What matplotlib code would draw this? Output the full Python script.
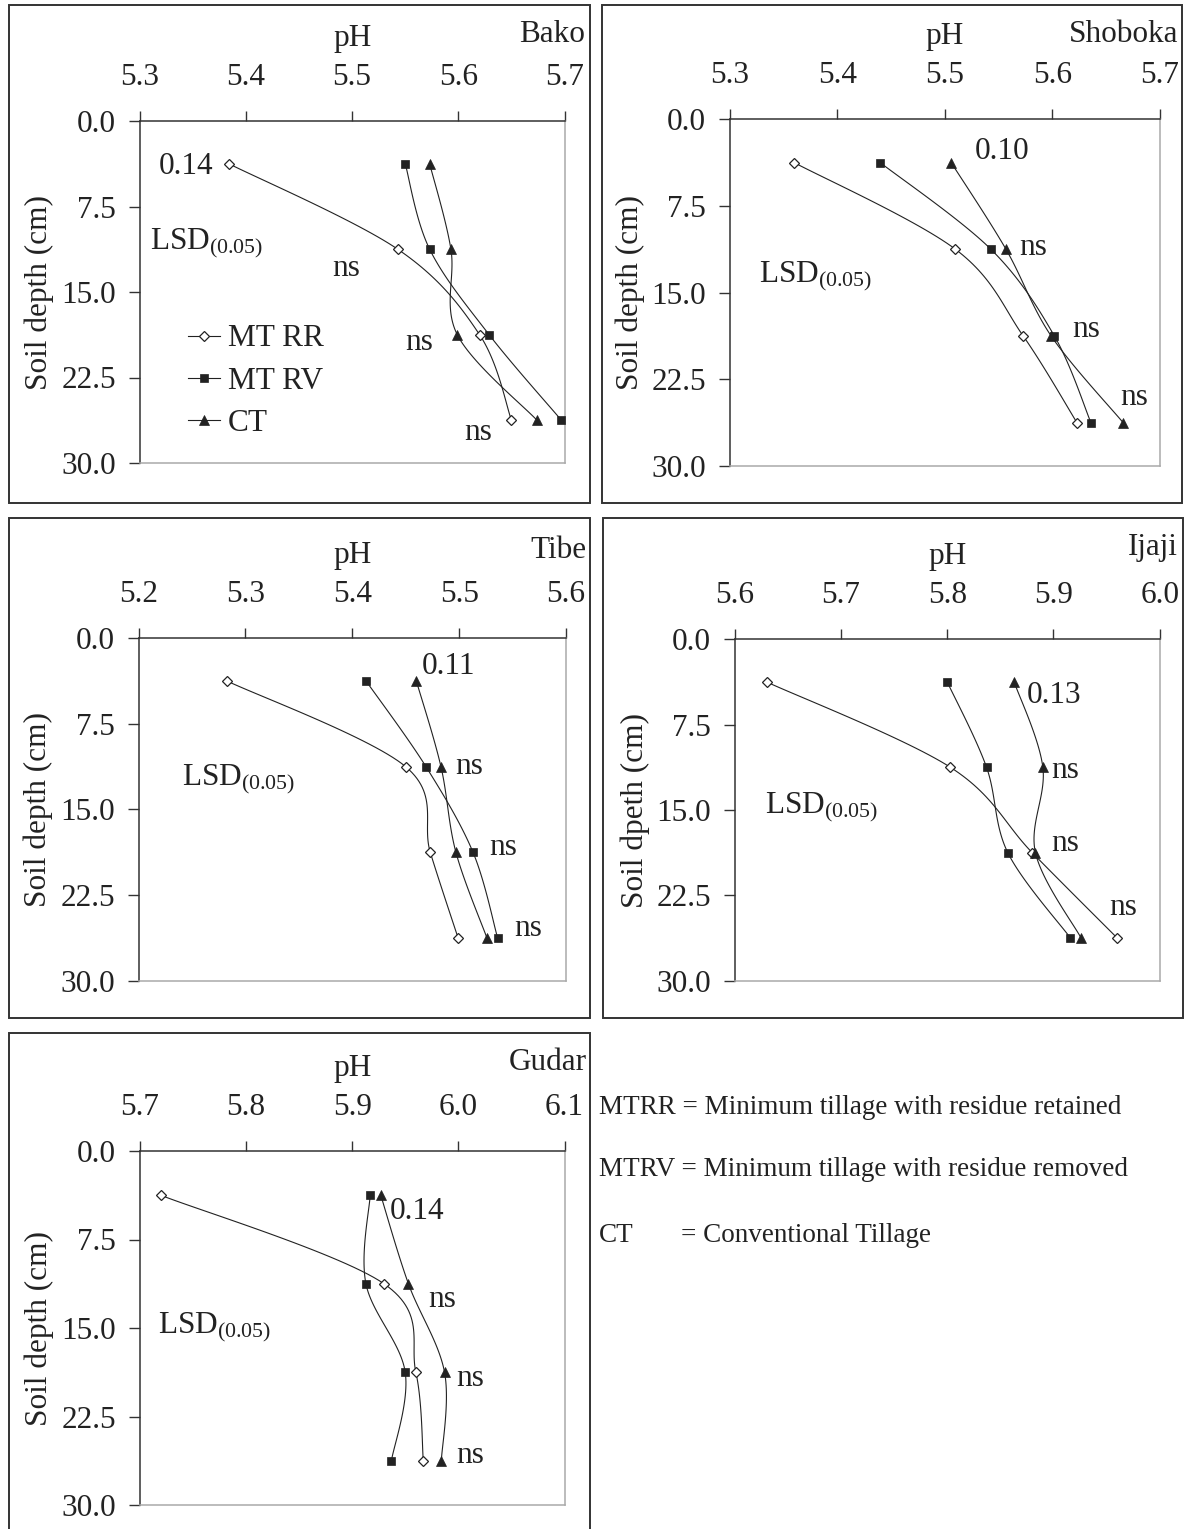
import numpy as np
import matplotlib
matplotlib.use("Agg")
import matplotlib.pyplot as plt
from matplotlib.patches import Rectangle
from matplotlib.lines import Line2D
from matplotlib.ticker import FormatStrFormatter

plt.rcParams['font.family'] = 'Liberation Serif'
plt.rcParams['mathtext.fontset'] = 'custom'
plt.rcParams['mathtext.rm'] = 'Liberation Serif'
plt.rcParams['mathtext.it'] = 'Liberation Serif:italic'

W, H = 1188, 1529
INK = '#222222'
FS = 22.5

# soil depth midpoints (cm)
depth = [3.75, 11.25, 18.75, 26.25]

# pH by site and treatment
bako_mtrr = [5.384, 5.543, 5.620, 5.650]
bako_mtrv = [5.550, 5.573, 5.629, 5.697]
bako_ct = [5.573, 5.593, 5.599, 5.674]

shoboka_mtrr = [5.360, 5.510, 5.573, 5.623]
shoboka_mtrv = [5.440, 5.543, 5.602, 5.636]
shoboka_ct = [5.506, 5.557, 5.599, 5.666]

tibe_mtrr = [5.283, 5.450, 5.473, 5.499]
tibe_mtrv = [5.413, 5.469, 5.513, 5.536]
tibe_ct = [5.460, 5.483, 5.497, 5.526]

ijaji_mtrr = [5.630, 5.803, 5.880, 5.960]
ijaji_mtrv = [5.800, 5.837, 5.857, 5.916]
ijaji_ct = [5.863, 5.890, 5.883, 5.926]

gudar_mtrr = [5.720, 5.930, 5.960, 5.967]
gudar_mtrv = [5.917, 5.913, 5.950, 5.937]
gudar_ct = [5.927, 5.953, 5.987, 5.984]

lsd = ['0.14', '0.10', '0.11', '0.13', '0.14']
ph_ticks = {
    'Bako': [5.3, 5.4, 5.5, 5.6, 5.7],
    'Shoboka': [5.3, 5.4, 5.5, 5.6, 5.7],
    'Tibe': [5.2, 5.3, 5.4, 5.5, 5.6],
    'Ijaji': [5.6, 5.7, 5.8, 5.9, 6.0],
    'Gudar': [5.7, 5.8, 5.9, 6.0, 6.1],
}
depth_ticks = [0.0, 7.5, 15.0, 22.5, 30.0]

# panel layout in pixels: axes (left, right, top, bottom), box (left, right, top, bottom)
panels = [
    dict(site='Bako', series=(bako_mtrr, bako_mtrv, bako_ct), lsd=lsd[0],
         ax=(139.6, 564.6, 121, 463), box=(8.5, 590, 5, 503), name_xy=(585, 35),
         lsd_xy=(5.344, 4.0), lsd_lab=(5.31, 11.2),
         ns=[(5.494, 12.9), (5.563, 19.4), (5.619, 27.3)],
         ylabel='Soil depth (cm)', legend=True),
    dict(site='Shoboka', series=(shoboka_mtrr, shoboka_mtrv, shoboka_ct), lsd=lsd[1],
         ax=(729.8, 1159.7, 119.3, 466), box=(601.5, 1182, 5, 503), name_xy=(1178, 35),
         lsd_xy=(5.553, 2.8), lsd_lab=(5.327, 14.05),
         ns=[(5.582, 11.1), (5.632, 18.2), (5.676, 24.1)],
         ylabel='Soil depth (cm)', legend=False),
    dict(site='Tibe', series=(tibe_mtrr, tibe_mtrv, tibe_ct), lsd=lsd[2],
         ax=(138.5, 566, 638.3, 980.7), box=(8.5, 590, 518, 1018), name_xy=(586.5, 550),
         lsd_xy=(5.490, 2.5), lsd_lab=(5.241, 12.85),
         ns=[(5.509, 11.25), (5.541, 18.3), (5.565, 25.4)],
         ylabel='Soil depth (cm)', legend=False),
    dict(site='Ijaji', series=(ijaji_mtrr, ijaji_mtrv, ijaji_ct), lsd=lsd[3],
         ax=(734.8, 1159.7, 639.3, 980.7), box=(602.6, 1182.7, 518, 1018), name_xy=(1178, 547),
         lsd_xy=(5.901, 4.9), lsd_lab=(5.628, 15.3),
         ns=[(5.911, 11.5), (5.911, 17.9), (5.966, 23.6)],
         ylabel='Soil dpeth (cm)', legend=False),
    dict(site='Gudar', series=(gudar_mtrr, gudar_mtrv, gudar_ct), lsd=lsd[4],
         ax=(139.6, 564.6, 1151, 1505), box=(8.5, 590, 1033, 1545), name_xy=(586.5, 1062),
         lsd_xy=(5.961, 5.1), lsd_lab=(5.717, 15.45),
         ns=[(5.985, 12.6), (6.011, 19.3), (6.011, 25.8)],
         ylabel='Soil depth (cm)', legend=False),
]

styles = [
    dict(label='MT RR', marker='D', ms=5, mfc='white', mec=INK, mew=0.9),
    dict(label='MT RV', marker='s', ms=6, mfc=INK, mec=INK, mew=0.5),
    dict(label='CT', marker='^', ms=6.5, mfc=INK, mec=INK, mew=0.5),
]


def smooth(ax, xs, ys, n=30):
    # Bezier smoothing in screen space, like spreadsheet "smoothed line"
    pts = ax.transData.transform(np.column_stack([xs, ys]))
    out = [pts[0]]
    t = np.linspace(0, 1, n)[1:, None]
    for i in range(len(pts) - 1):
        p0 = pts[i - 1] if i > 0 else pts[i]
        p1, p2 = pts[i], pts[i + 1]
        p3 = pts[i + 2] if i + 2 < len(pts) else pts[i + 1]
        c1 = p1 + (p2 - p0) / 6
        c2 = p2 - (p3 - p1) / 6
        seg = (1 - t) ** 3 * p1 + 3 * (1 - t) ** 2 * t * c1 + 3 * (1 - t) * t ** 2 * c2 + t ** 3 * p2
        out.extend(seg)
    return ax.transData.inverted().transform(np.array(out))


fig = plt.figure(figsize=(W / 100, H / 100), dpi=100)

for p in panels:
    l, r, t, b = p['ax']
    ax = fig.add_axes([l / W, 1 - b / H, (r - l) / W, (b - t) / H])
    ticks = ph_ticks[p['site']]
    ax.set_xlim(ticks[0], ticks[-1])
    ax.set_ylim(30, 0)
    ax.set_xticks(ticks)
    ax.set_yticks(depth_ticks)
    ax.xaxis.set_major_formatter(FormatStrFormatter('%.1f'))
    ax.yaxis.set_major_formatter(FormatStrFormatter('%.1f'))
    ax.xaxis.tick_top()
    ax.xaxis.set_label_position('top')
    ax.tick_params(axis='x', direction='out', length=7, width=1, color='#333333',
                   labelsize=FS, labelcolor=INK, pad=14)
    ax.tick_params(axis='y', direction='out', length=8, width=1, color='#333333',
                   labelsize=FS, labelcolor=INK, pad=9)
    for side in ('left', 'top'):
        ax.spines[side].set_color('#333333')
        ax.spines[side].set_linewidth(1.1)
    for side in ('right', 'bottom'):
        ax.spines[side].set_color('#aaaaaa')
        ax.spines[side].set_linewidth(1.1)
    ax.set_xlabel('pH', fontsize=FS, color=INK, labelpad=12)
    ax.set_ylabel(p['ylabel'], fontsize=FS, color=INK, labelpad=5)

    for vals, st in zip(p['series'], styles):
        curve = smooth(ax, vals, depth)
        ax.plot(curve[:, 0], curve[:, 1], color=INK, lw=0.8, zorder=2)
        ax.plot(vals, depth, ls='none', marker=st['marker'], ms=st['ms'],
                mfc=st['mfc'], mec=st['mec'], mew=st['mew'], zorder=3)

    ax.text(*p['lsd_xy'], p['lsd'], fontsize=FS, color=INK, ha='center', va='center')
    ax.text(*p['lsd_lab'], r'LSD$_{(0.05)}$', fontsize=FS, color=INK, ha='left', va='baseline')
    for x, y in p['ns']:
        ax.text(x, y, 'ns', fontsize=FS, color=INK, ha='center', va='center')

    if p['legend']:
        handles = [Line2D([], [], color=INK, lw=0.8, marker=st['marker'], ms=st['ms'],
                          mfc=st['mfc'], mec=st['mec'], mew=st['mew'], label=st['label'])
                   for st in styles]
        ax.legend(handles=handles, loc='upper left', bbox_to_anchor=(0.115, 0.405),
                  frameon=False, fontsize=FS, handlelength=1.0, handletextpad=0.25,
                  labelspacing=0.42, borderpad=0, borderaxespad=0, labelcolor=INK)

    fig.text(p['name_xy'][0] / W, 1 - p['name_xy'][1] / H, p['site'], fontsize=FS,
             color=INK, ha='right', va='center')

    bl, br, bt, bb = p['box']
    fig.add_artist(Rectangle((bl / W, 1 - bb / H), (br - bl) / W, (bb - bt) / H,
                             transform=fig.transFigure, fill=False, ec='#333333', lw=1.4))

# abbreviation key
key = [('MTRR', '= Minimum tillage with residue retained', 1107),
       ('MTRV', '= Minimum tillage with residue removed', 1170),
       ('CT', '= Conventional Tillage', 1235)]
for abbr, desc, y in key:
    if abbr == 'CT':
        fig.text(599 / W, 1 - y / H, abbr, fontsize=19.5, color=INK, va='center')
        fig.text(681 / W, 1 - y / H, desc, fontsize=19.5, color=INK, va='center')
    else:
        fig.text(599 / W, 1 - y / H, abbr + ' ' + desc, fontsize=19.5, color=INK, va='center')

fig.savefig('out.png', dpi=100, facecolor='white')
